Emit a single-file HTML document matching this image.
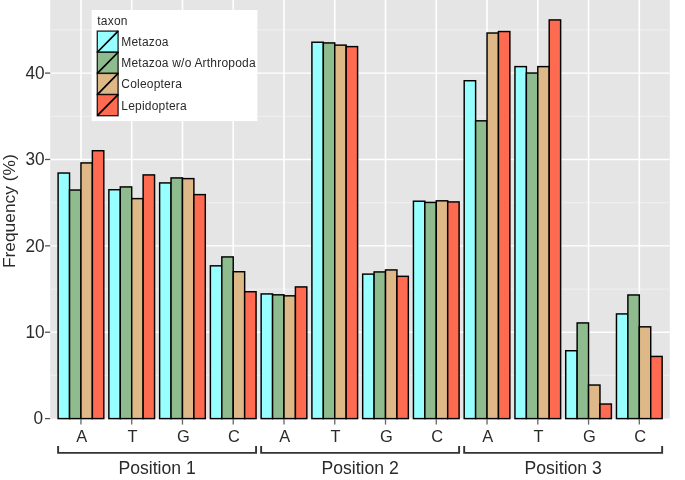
<!DOCTYPE html>
<html><head><meta charset="utf-8"><style>
html,body{margin:0;padding:0;background:#fff;}
body{width:685px;height:480px;overflow:hidden;}
svg{display:block;will-change:transform;}
text{font-family:"Liberation Sans",sans-serif;}
.tk{font-size:16.4px;fill:#2a2a2a;}
.ty{font-size:17.2px;fill:#2a2a2a;}
.ax{font-size:17.6px;fill:#2a2a2a;}
.yt{font-size:17.35px;fill:#2a2a2a;}
.lg{font-size:12px;letter-spacing:0.2px;fill:#2a2a2a;}
</style></head><body>
<svg width="685" height="480" viewBox="0 0 685 480">
<rect x="50.2" y="0" width="619.6" height="418.6" fill="#E5E5E5"/>
<line x1="50.2" x2="669.8" y1="375.41" y2="375.41" stroke="#EEEEEE" stroke-width="1.2"/>
<line x1="50.2" x2="669.8" y1="289.04" y2="289.04" stroke="#EEEEEE" stroke-width="1.2"/>
<line x1="50.2" x2="669.8" y1="202.66" y2="202.66" stroke="#EEEEEE" stroke-width="1.2"/>
<line x1="50.2" x2="669.8" y1="116.29" y2="116.29" stroke="#EEEEEE" stroke-width="1.2"/>
<line x1="50.2" x2="669.8" y1="29.91" y2="29.91" stroke="#EEEEEE" stroke-width="1.2"/>
<line x1="50.2" x2="669.8" y1="332.23" y2="332.23" stroke="#FFFFFF" stroke-width="1.3"/>
<line x1="50.2" x2="669.8" y1="245.85" y2="245.85" stroke="#FFFFFF" stroke-width="1.3"/>
<line x1="50.2" x2="669.8" y1="159.48" y2="159.48" stroke="#FFFFFF" stroke-width="1.3"/>
<line x1="50.2" x2="669.8" y1="73.1" y2="73.1" stroke="#FFFFFF" stroke-width="1.3"/>
<line x1="80.95" x2="80.95" y1="0" y2="418.6" stroke="#FFFFFF" stroke-width="1.6"/>
<line x1="131.71" x2="131.71" y1="0" y2="418.6" stroke="#FFFFFF" stroke-width="1.6"/>
<line x1="182.47" x2="182.47" y1="0" y2="418.6" stroke="#FFFFFF" stroke-width="1.6"/>
<line x1="233.23" x2="233.23" y1="0" y2="418.6" stroke="#FFFFFF" stroke-width="1.6"/>
<line x1="283.99" x2="283.99" y1="0" y2="418.6" stroke="#FFFFFF" stroke-width="1.6"/>
<line x1="334.75" x2="334.75" y1="0" y2="418.6" stroke="#FFFFFF" stroke-width="1.6"/>
<line x1="385.51" x2="385.51" y1="0" y2="418.6" stroke="#FFFFFF" stroke-width="1.6"/>
<line x1="436.27" x2="436.27" y1="0" y2="418.6" stroke="#FFFFFF" stroke-width="1.6"/>
<line x1="487.03" x2="487.03" y1="0" y2="418.6" stroke="#FFFFFF" stroke-width="1.6"/>
<line x1="537.79" x2="537.79" y1="0" y2="418.6" stroke="#FFFFFF" stroke-width="1.6"/>
<line x1="588.55" x2="588.55" y1="0" y2="418.6" stroke="#FFFFFF" stroke-width="1.6"/>
<line x1="639.31" x2="639.31" y1="0" y2="418.6" stroke="#FFFFFF" stroke-width="1.6"/>
<rect x="58.11" y="173.03" width="11.42" height="245.58" fill="#97FFFF" stroke="#000" stroke-width="1.45"/>
<rect x="69.53" y="190.03" width="11.42" height="228.58" fill="#8FBC8F" stroke="#000" stroke-width="1.45"/>
<rect x="80.95" y="162.92" width="11.42" height="255.68" fill="#DEB887" stroke="#000" stroke-width="1.45"/>
<rect x="92.37" y="150.72" width="11.42" height="267.88" fill="#FF6B50" stroke="#000" stroke-width="1.45"/>
<rect x="108.87" y="189.72" width="11.42" height="228.88" fill="#97FFFF" stroke="#000" stroke-width="1.45"/>
<rect x="120.29" y="186.92" width="11.42" height="231.68" fill="#8FBC8F" stroke="#000" stroke-width="1.45"/>
<rect x="131.71" y="198.62" width="11.42" height="219.98" fill="#DEB887" stroke="#000" stroke-width="1.45"/>
<rect x="143.13" y="174.92" width="11.42" height="243.68" fill="#FF6B50" stroke="#000" stroke-width="1.45"/>
<rect x="159.63" y="182.92" width="11.42" height="235.68" fill="#97FFFF" stroke="#000" stroke-width="1.45"/>
<rect x="171.05" y="177.92" width="11.42" height="240.68" fill="#8FBC8F" stroke="#000" stroke-width="1.45"/>
<rect x="182.47" y="178.62" width="11.42" height="239.98" fill="#DEB887" stroke="#000" stroke-width="1.45"/>
<rect x="193.89" y="194.62" width="11.42" height="223.98" fill="#FF6B50" stroke="#000" stroke-width="1.45"/>
<rect x="210.39" y="265.83" width="11.42" height="152.77" fill="#97FFFF" stroke="#000" stroke-width="1.45"/>
<rect x="221.81" y="256.93" width="11.42" height="161.68" fill="#8FBC8F" stroke="#000" stroke-width="1.45"/>
<rect x="233.23" y="271.73" width="11.42" height="146.88" fill="#DEB887" stroke="#000" stroke-width="1.45"/>
<rect x="244.65" y="291.73" width="11.42" height="126.88" fill="#FF6B50" stroke="#000" stroke-width="1.45"/>
<rect x="261.15" y="293.93" width="11.42" height="124.68" fill="#97FFFF" stroke="#000" stroke-width="1.45"/>
<rect x="272.57" y="294.83" width="11.42" height="123.77" fill="#8FBC8F" stroke="#000" stroke-width="1.45"/>
<rect x="283.99" y="295.83" width="11.42" height="122.77" fill="#DEB887" stroke="#000" stroke-width="1.45"/>
<rect x="295.41" y="286.93" width="11.42" height="131.68" fill="#FF6B50" stroke="#000" stroke-width="1.45"/>
<rect x="311.91" y="42.23" width="11.42" height="376.38" fill="#97FFFF" stroke="#000" stroke-width="1.45"/>
<rect x="323.33" y="42.93" width="11.42" height="375.68" fill="#8FBC8F" stroke="#000" stroke-width="1.45"/>
<rect x="334.75" y="45.12" width="11.42" height="373.48" fill="#DEB887" stroke="#000" stroke-width="1.45"/>
<rect x="346.17" y="46.62" width="11.42" height="371.98" fill="#FF6B50" stroke="#000" stroke-width="1.45"/>
<rect x="362.67" y="274.12" width="11.42" height="144.48" fill="#97FFFF" stroke="#000" stroke-width="1.45"/>
<rect x="374.09" y="271.93" width="11.42" height="146.68" fill="#8FBC8F" stroke="#000" stroke-width="1.45"/>
<rect x="385.51" y="269.93" width="11.42" height="148.68" fill="#DEB887" stroke="#000" stroke-width="1.45"/>
<rect x="396.93" y="276.33" width="11.42" height="142.27" fill="#FF6B50" stroke="#000" stroke-width="1.45"/>
<rect x="413.43" y="201.22" width="11.42" height="217.38" fill="#97FFFF" stroke="#000" stroke-width="1.45"/>
<rect x="424.85" y="202.42" width="11.42" height="216.18" fill="#8FBC8F" stroke="#000" stroke-width="1.45"/>
<rect x="436.27" y="200.82" width="11.42" height="217.78" fill="#DEB887" stroke="#000" stroke-width="1.45"/>
<rect x="447.69" y="201.92" width="11.42" height="216.68" fill="#FF6B50" stroke="#000" stroke-width="1.45"/>
<rect x="464.19" y="80.72" width="11.42" height="337.88" fill="#97FFFF" stroke="#000" stroke-width="1.45"/>
<rect x="475.61" y="120.82" width="11.42" height="297.78" fill="#8FBC8F" stroke="#000" stroke-width="1.45"/>
<rect x="487.03" y="33.02" width="11.42" height="385.58" fill="#DEB887" stroke="#000" stroke-width="1.45"/>
<rect x="498.45" y="31.53" width="11.42" height="387.08" fill="#FF6B50" stroke="#000" stroke-width="1.45"/>
<rect x="514.95" y="66.62" width="11.42" height="351.98" fill="#97FFFF" stroke="#000" stroke-width="1.45"/>
<rect x="526.37" y="73.02" width="11.42" height="345.58" fill="#8FBC8F" stroke="#000" stroke-width="1.45"/>
<rect x="537.79" y="66.62" width="11.42" height="351.98" fill="#DEB887" stroke="#000" stroke-width="1.45"/>
<rect x="549.21" y="19.93" width="11.42" height="398.68" fill="#FF6B50" stroke="#000" stroke-width="1.45"/>
<rect x="565.71" y="350.73" width="11.42" height="67.88" fill="#97FFFF" stroke="#000" stroke-width="1.45"/>
<rect x="577.13" y="322.93" width="11.42" height="95.68" fill="#8FBC8F" stroke="#000" stroke-width="1.45"/>
<rect x="588.55" y="385.03" width="11.42" height="33.57" fill="#DEB887" stroke="#000" stroke-width="1.45"/>
<rect x="599.97" y="404.03" width="11.42" height="14.57" fill="#FF6B50" stroke="#000" stroke-width="1.45"/>
<rect x="616.47" y="313.93" width="11.42" height="104.68" fill="#97FFFF" stroke="#000" stroke-width="1.45"/>
<rect x="627.89" y="294.98" width="11.42" height="123.62" fill="#8FBC8F" stroke="#000" stroke-width="1.45"/>
<rect x="639.31" y="326.83" width="11.42" height="91.77" fill="#DEB887" stroke="#000" stroke-width="1.45"/>
<rect x="650.73" y="356.43" width="11.42" height="62.18" fill="#FF6B50" stroke="#000" stroke-width="1.45"/>
<line x1="45" x2="50.2" y1="418.6" y2="418.6" stroke="#555" stroke-width="1.3"/>
<text transform="translate(43.1,424.3) scale(1,1.04)" text-anchor="end" class="ty">0</text>
<line x1="45" x2="50.2" y1="332.23" y2="332.23" stroke="#555" stroke-width="1.3"/>
<text transform="translate(44.6,337.93) scale(1,1.04)" text-anchor="end" class="ty">10</text>
<line x1="45" x2="50.2" y1="245.85" y2="245.85" stroke="#555" stroke-width="1.3"/>
<text transform="translate(44.6,251.55) scale(1,1.04)" text-anchor="end" class="ty">20</text>
<line x1="45" x2="50.2" y1="159.48" y2="159.48" stroke="#555" stroke-width="1.3"/>
<text transform="translate(44.6,165.18) scale(1,1.04)" text-anchor="end" class="ty">30</text>
<line x1="45" x2="50.2" y1="73.1" y2="73.1" stroke="#555" stroke-width="1.3"/>
<text transform="translate(44.6,78.8) scale(1,1.04)" text-anchor="end" class="ty">40</text>
<line x1="80.95" x2="80.95" y1="419.5" y2="424.6" stroke="#666" stroke-width="1.3"/>
<text x="81.75" y="441.8" text-anchor="middle" class="tk">A</text>
<line x1="131.71" x2="131.71" y1="419.5" y2="424.6" stroke="#666" stroke-width="1.3"/>
<text x="132.51" y="441.8" text-anchor="middle" class="tk">T</text>
<line x1="182.47" x2="182.47" y1="419.5" y2="424.6" stroke="#666" stroke-width="1.3"/>
<text x="183.27" y="441.8" text-anchor="middle" class="tk">G</text>
<line x1="233.23" x2="233.23" y1="419.5" y2="424.6" stroke="#666" stroke-width="1.3"/>
<text x="234.03" y="441.8" text-anchor="middle" class="tk">C</text>
<line x1="283.99" x2="283.99" y1="419.5" y2="424.6" stroke="#666" stroke-width="1.3"/>
<text x="284.79" y="441.8" text-anchor="middle" class="tk">A</text>
<line x1="334.75" x2="334.75" y1="419.5" y2="424.6" stroke="#666" stroke-width="1.3"/>
<text x="335.55" y="441.8" text-anchor="middle" class="tk">T</text>
<line x1="385.51" x2="385.51" y1="419.5" y2="424.6" stroke="#666" stroke-width="1.3"/>
<text x="386.31" y="441.8" text-anchor="middle" class="tk">G</text>
<line x1="436.27" x2="436.27" y1="419.5" y2="424.6" stroke="#666" stroke-width="1.3"/>
<text x="437.07" y="441.8" text-anchor="middle" class="tk">C</text>
<line x1="487.03" x2="487.03" y1="419.5" y2="424.6" stroke="#666" stroke-width="1.3"/>
<text x="487.83" y="441.8" text-anchor="middle" class="tk">A</text>
<line x1="537.79" x2="537.79" y1="419.5" y2="424.6" stroke="#666" stroke-width="1.3"/>
<text x="538.59" y="441.8" text-anchor="middle" class="tk">T</text>
<line x1="588.55" x2="588.55" y1="419.5" y2="424.6" stroke="#666" stroke-width="1.3"/>
<text x="589.35" y="441.8" text-anchor="middle" class="tk">G</text>
<line x1="639.31" x2="639.31" y1="419.5" y2="424.6" stroke="#666" stroke-width="1.3"/>
<text x="640.11" y="441.8" text-anchor="middle" class="tk">C</text>
<path d="M58.11 446.1 V452.9 H256.07 V446.1" fill="none" stroke="#333" stroke-width="1.9"/>
<text x="157.09" y="474.4" text-anchor="middle" class="ax">Position 1</text>
<path d="M261.15 446.1 V452.9 H459.11 V446.1" fill="none" stroke="#333" stroke-width="1.9"/>
<text x="360.13" y="474.4" text-anchor="middle" class="ax">Position 2</text>
<path d="M464.19 446.1 V452.9 H662.15 V446.1" fill="none" stroke="#333" stroke-width="1.9"/>
<text x="563.17" y="474.4" text-anchor="middle" class="ax">Position 3</text>
<text transform="translate(15,211.2) rotate(-90)" text-anchor="middle" class="yt">Frequency (%)</text>
<rect x="91.6" y="10" width="165.8" height="111.1" fill="#FFFFFF"/>
<text x="97.3" y="25" class="lg">taxon</text>
<rect x="97.3" y="31.1" width="20.8" height="21.15" fill="#97FFFF" stroke="#000" stroke-opacity="0.82" stroke-width="1.4"/>
<line x1="97.3" y1="52.25" x2="118.1" y2="31.1" stroke="#000" stroke-width="1.7"/>
<text x="121.3" y="45.6" class="lg">Metazoa</text>
<rect x="97.3" y="52.25" width="20.8" height="21.15" fill="#8FBC8F" stroke="#000" stroke-opacity="0.82" stroke-width="1.4"/>
<line x1="97.3" y1="73.4" x2="118.1" y2="52.25" stroke="#000" stroke-width="1.7"/>
<text x="121.3" y="66.9" class="lg">Metazoa w/o Arthropoda</text>
<rect x="97.3" y="73.4" width="20.8" height="21.15" fill="#DEB887" stroke="#000" stroke-opacity="0.82" stroke-width="1.4"/>
<line x1="97.3" y1="94.55" x2="118.1" y2="73.4" stroke="#000" stroke-width="1.7"/>
<text x="121.3" y="88.2" class="lg">Coleoptera</text>
<rect x="97.3" y="94.55" width="20.8" height="21.15" fill="#FF6B50" stroke="#000" stroke-opacity="0.82" stroke-width="1.4"/>
<line x1="97.3" y1="115.7" x2="118.1" y2="94.55" stroke="#000" stroke-width="1.7"/>
<text x="121.3" y="109.5" class="lg">Lepidoptera</text>
</svg>
</body></html>
